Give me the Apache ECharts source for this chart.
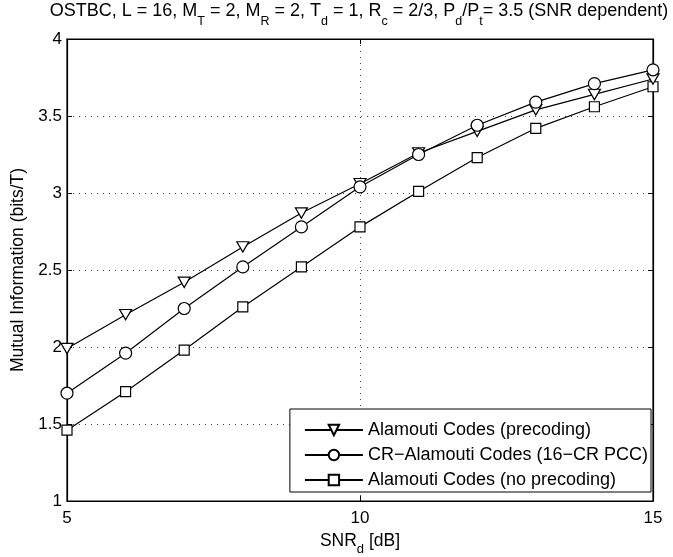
<!DOCTYPE html>
<html>
<head>
<meta charset="utf-8">
<script src="https://cdn.jsdelivr.net/npm/echarts@6/dist/echarts.min.js"></script>
<style>
  html, body { margin: 0; padding: 0; background: #fff; }
  #chart { width: 673px; height: 557px; }
</style>
</head>
<body>
<div id="chart"></div>
<script>
// SNR_d values (dB)
const snr = [5, 6, 7, 8, 9, 10, 11, 12, 13, 14, 15];

// Mutual information (bits/T) per scheme
const precoding   = [1.99, 2.21, 2.42, 2.65, 2.87, 3.06, 3.26, 3.40, 3.54, 3.64, 3.74];
const crAlamouti  = [1.70, 1.96, 2.25, 2.52, 2.78, 3.04, 3.25, 3.44, 3.59, 3.71, 3.80];
const noPrecoding = [1.46, 1.71, 1.98, 2.26, 2.52, 2.78, 3.01, 3.23, 3.42, 3.56, 3.69];

const seriesNames = [
  'Alamouti Codes (precoding)',
  'CR\u2212Alamouti Codes (16\u2212CR PCC)',
  'Alamouti Codes (no precoding)'
];

const xTicks = [5, 10, 15];
const yTicks = [1, 1.5, 2, 2.5, 3, 3.5, 4];

const FONT = '"Liberation Sans", Arial, Helvetica, sans-serif';
const downTriangle = 'path://M0,0 L12,0 L6,10.4 Z';

function pairs(xs, ys) { return xs.map((x, i) => [x, ys[i]]); }

const lineStyle = { color: '#000', width: 1.2 };
const itemStyle = { color: '#fff', borderColor: '#000', borderWidth: 1.2 };

// rich-text styles for normal text and subscripts
const titleMain = { fontSize: 18, fontFamily: FONT, fontWeight: 'normal', color: '#000' };
const titleSub  = { fontSize: 12.5, fontFamily: FONT, fontWeight: 'normal', color: '#000', padding: [20, 0, 0, 0] };
const nameMain  = { fontSize: 17.5, fontFamily: FONT, color: '#000' };
const nameSub   = { fontSize: 13, fontFamily: FONT, color: '#000', padding: [18, 0, 0, 0] };

const gridLine = { show: true, lineStyle: { color: '#444', width: 1, type: [1, 5] } };
const tickStyle = { show: true, inside: true, length: 5, lineStyle: { color: '#000' } };
const axisLineStyle = { show: true, lineStyle: { color: '#000', width: 1.2 } };

const chart = echarts.init(document.getElementById('chart'), null, { renderer: 'canvas' });
chart.setOption({
  animation: false,
  backgroundColor: '#fff',
  title: {
    text: '{a|OSTBC, L = 16, M}{s|T}{a| = 2, M}{s|R}{a| = 2, T}{s|d}{a| = 1, R}{s|c}{a| = 2/3, P}{s|d}{a|/P}{s|t}{a|= 3.5 (SNR dependent)}',
    left: 359,
    textAlign: 'center',
    top: -5,
    padding: 0,
    textStyle: { rich: { a: titleMain, s: titleSub } }
  },
  grid: {
    left: 67, right: 20, top: 39, bottom: 56,
    outerBoundsMode: 'none',
    containLabel: false,
    show: true, borderColor: '#000', borderWidth: 1.2, backgroundColor: '#fff'
  },
  legend: {
    orient: 'vertical',
    right: 22,
    top: 409,
    data: seriesNames,
    itemWidth: 58,
    itemHeight: 13,
    itemGap: 7,
    padding: [12, 3, 3, 14],
    borderColor: '#000',
    borderWidth: 1,
    borderRadius: 0,
    backgroundColor: '#fff',
    textStyle: { fontFamily: FONT, fontSize: 18, color: '#000' }
  },
  xAxis: [{
    type: 'value', min: 5, max: 15, interval: 5,
    position: 'bottom',
    axisLine: axisLineStyle,
    axisTick: tickStyle,
    axisLabel: { fontFamily: FONT, fontSize: 17, color: '#000', margin: 9,
      formatter: v => (xTicks.includes(v) ? String(v) : '') },
    splitLine: gridLine,
    name: '{n|SNR}{s|d}{n| [dB]}',
    nameLocation: 'middle',
    nameGap: 23,
    nameTextStyle: { rich: { n: nameMain, s: nameSub } }
  }, {
    type: 'value', min: 5, max: 15, interval: 5,
    position: 'top',
    axisLine: axisLineStyle,
    axisTick: tickStyle,
    axisLabel: { show: false },
    splitLine: { show: false }
  }],
  yAxis: [{
    type: 'value', min: 1, max: 4, interval: 0.5,
    position: 'left',
    axisLine: axisLineStyle,
    axisTick: tickStyle,
    axisLabel: { fontFamily: FONT, fontSize: 17, color: '#000', margin: 5,
      formatter: v => (yTicks.includes(v) ? String(v) : '') },
    splitLine: gridLine,
    name: 'Mutual Information (bits/T)',
    nameLocation: 'middle',
    nameGap: 35,
    nameTextStyle: { fontFamily: FONT, fontSize: 17.5, color: '#000' }
  }, {
    type: 'value', min: 1, max: 4, interval: 0.5,
    position: 'right',
    axisLine: axisLineStyle,
    axisTick: tickStyle,
    axisLabel: { show: false },
    splitLine: { show: false }
  }],
  series: [
    {
      name: seriesNames[0], type: 'line', data: pairs(snr, precoding),
      symbol: downTriangle, symbolSize: [12, 10.4], showAllSymbol: true,
      lineStyle, itemStyle, z: 3
    },
    {
      name: seriesNames[1], type: 'line', data: pairs(snr, crAlamouti),
      symbol: 'circle', symbolSize: 12, showAllSymbol: true,
      lineStyle, itemStyle, z: 4
    },
    {
      name: seriesNames[2], type: 'line', data: pairs(snr, noPrecoding),
      symbol: 'rect', symbolSize: 10, showAllSymbol: true,
      lineStyle, itemStyle, z: 2
    }
  ]
});
</script>
</body>
</html>
